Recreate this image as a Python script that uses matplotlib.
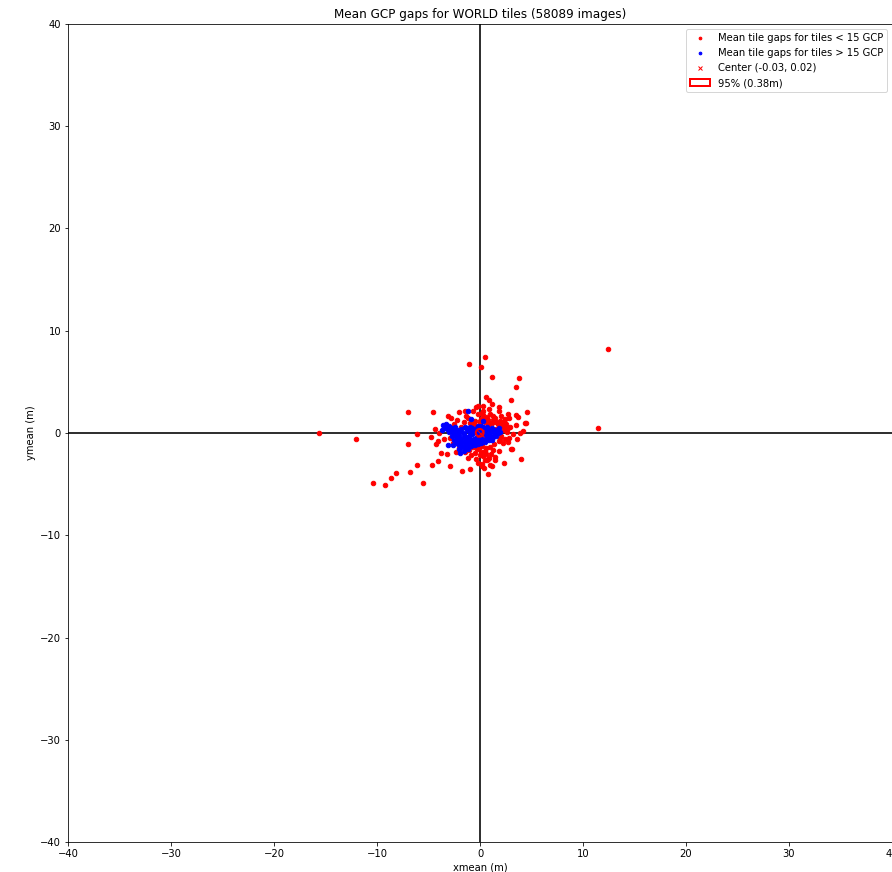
from matplotlib import pyplot as plt
from matplotlib.patches import Circle
import numpy as np

# mean gaps (m) for tiles with fewer than 15 GCP
red_x = [-15.6, -12.05, 12.44, 11.47,
         0.49, -1.04, 0.1, 1.17, 3.79, 3.5, 0.55, 0.9, 3.0, 1.2, 1.8, 4.6, -7.0, -4.6, -1.5, -2.0,
         2.75, -3.1, 3.7, 2.4, 4.4, 3.5, -4.4, -6.15, -4.8, 3.9, 3.6, -3.5, -6.97, -4.3, 3.1, -3.8,
         -3.2, -4.1, 4.0, 2.3, 1.5, -6.1, -4.7, -2.9, 0.4, -1.7, -0.97, 0.78, -8.2, -6.8, -8.6, -10.4,
         -9.2, -5.5, 0.8, 0.03,
         0.26, 0.9, 1.87, 3.5, 1.23, 2.85, 2.36, 2.7, 4.15, 3.17, 2.85, 2.2, 3.0, 1.87, 0.26, 0.9,
         -0.4, -1.2, -4.1, -3.95, -2.8, -1.36, -0.7, -0.4, 0.65, 4.47, -0.15,
         -0.2, 0.3, 0.7, 1.0, 1.5, 1.9, 0.1, -0.5, -1.0, 0.5, 1.2, 1.7, 2.1, 2.5, -1.6, -2.2, -2.5,
         0.8, 2.3, 2.6, 2.0, 2.4, 1.8, 1.4, 1.0, 0.6, 0.2, -0.3, -0.7, -1.1, -0.5, 0.1, 0.6, 1.3,
         -1.5, -2.0, -2.6, -2.9, 1.6, 1.1, 0.4, -0.3, -0.8, 2.9, 2.7, 1.5, -0.9, 0.3, -1.2, 0.0,
         1.3, 2.0, -1.8, -2.3, 0.5, -0.2, 1.0, 0.2, 0.5, 1.1, 0.2, 1.2,
         0.0, 0.4, 0.8, 1.6, 2.2, -0.6, 0.2, 0.9, -0.1, 0.5, 1.9, 2.5]
red_y = [0.03, -0.55, 8.24, 0.52,
         7.4, 6.7, 6.5, 5.5, 5.35, 4.5, 3.55, 3.2, 3.2, 2.8, 2.5, 2.1, 2.1, 2.1, 2.2, 2.05,
         1.9, 1.7, 1.6, 1.4, 1.0, 0.8, 0.35, -0.1, -0.35, 0.03, -0.6, -0.6, -1.1, -1.1, -1.6, -2.0,
         -2.1, -2.7, -2.55, -2.9, -2.6, -3.1, -3.1, -3.2, -3.45, -3.7, -3.55, -4.0, -3.9, -3.8, -4.4, -4.9,
         -5.05, -4.85, -2.55, -2.15,
         2.64, 2.3, 2.15, 1.8, 1.66, 1.5, 1.17, 0.52, 0.2, -0.13, -0.46, -0.95, -1.6, -1.76, -2.25, -2.4,
         -2.57, -2.4, -0.8, 0.03, 1.5, 1.66, 2.15, 2.5, -2.6, 0.95, 2.6,
         1.9, 1.8, 1.6, 1.9, 1.5, 1.2, 1.4, 1.2, 1.0, 1.1, 1.0, 0.9, 0.7, 0.9, 1.1, 1.3, 0.9,
         0.8, 0.3, 0.1, -0.3, -0.6, -0.8, -1.1, -1.4, -1.5, -1.3, -1.6, -1.4, -1.7, -2.0, -1.9, -2.1, -1.7,
         -1.9, -1.5, -1.0, -0.5, 0.4, 0.3, 0.5, 0.6, 0.4, 0.6, -0.9, -2.3, -2.2, 2.2, 1.5, 1.0,
         1.3, 1.7, 0.6, -1.9, -2.6, -2.9, -3.1, -3.2, -1.9, -2.1, -3.0, -3.2,
         1.2, 1.5, 1.3, 1.1, 0.9, 0.9, 2.0, 1.0, -1.5, -1.8, -0.6, 0.5]

# mean gaps (m) for tiles with more than 15 GCP
blue_x = [-3.6, -3.3, -3.0, -3.5, -3.2, -2.8, -3.7, -2.6, -3.0, -2.4,
          -2.2, -2.0, -1.8, -1.6, -1.4, -1.2, -1.0, -0.8, -0.6, -0.4, -0.2, 0.0, 0.2, 0.4, 0.6, 0.8,
          1.0, 1.2, 1.4, 1.6, 1.8, 1.9, 1.3, 0.9, 0.5, 0.1, -0.3, -0.7, -1.1, -1.5, -1.9, -2.3, -2.5,
          -2.1, -1.7, -1.3, -0.9, -0.5, -2.0, -1.6, -1.2, -1.9, -2.6, -3.1, -0.2, 0.3, 0.7, -1.0, -1.4,
          -0.6, 0.0, -1.6, 1.5, -0.9, 0.4, -2.7, -0.1,
          -2.9, -2.5, -2.2, -1.9, -1.5, -1.1, -0.7, -0.3, 0.1, 0.5, 0.9, 1.3, 1.7,
          -2.4, -2.0, -1.6, -1.2, -0.8, -0.4, 0.0, 0.4, 0.8, 1.2, 1.6,
          -2.2, -1.8, -1.4, -1.0, -0.6, -0.2, 0.2, 0.6, 1.0,
          -1.8, -1.4, -1.0, -0.6, -0.2, 0.2, -1.5, -1.1, -3.4, -3.1, -2.7,
          -1.2, -0.87, 0.26]
blue_y = [0.8, 0.9, 0.7, 0.5, 0.4, 0.5, 0.3, 0.2, 0.1, 0.6,
          0.3, -0.1, 0.4, 0.0, -0.4, 0.3, -0.2, 0.5, -0.6, 0.2, -0.3, 0.4, -0.5, 0.1, -0.2, 0.3,
          -0.1, 0.5, 0.1, 0.3, 0.5, 0.1, -0.4, -0.7, -0.9, -1.0, -0.9, -1.0, -0.8, -0.9, -0.6, -0.3, -0.7,
          -1.1, -1.3, -1.2, -1.3, -1.2, -1.6, -1.8, -1.6, -2.0, -1.2, -1.2, 0.7, 0.6, 0.6, 0.6, 0.5,
          0.3, -0.1, -0.5, -0.2, 0.1, -0.4, -0.3, -0.6,
          0.3, 0.0, -0.5, 0.2, 0.6, 0.2, 0.0, 0.5, 0.7, 0.4, 0.0, 0.2, 0.0,
          0.1, -0.4, -0.2, -0.4, -0.1, -0.5, -0.4, -0.6, -0.4, -0.7, -0.3,
          -0.9, -0.9, -0.7, -0.6, -0.8, -0.7, -0.8, -0.5, -0.4,
          -1.4, -1.1, -1.0, -1.0, -1.1, -0.9, -1.4, -1.1, 0.65, 0.6, 0.35,
          2.15, 1.34, 1.17]

center = (-0.03, 0.02)
r95 = 0.38
n_images = 58089

if __name__ == '__main__':
    fig = plt.figure(figsize=(892 / 72, 872 / 72), dpi=72)
    ax = fig.add_axes([68 / 892, 30 / 872, 824 / 892, 818 / 872])
    ax.axhline(0, color='0.1', lw=1.8, zorder=1)
    ax.axvline(0, color='0.1', lw=1.8, zorder=1)
    ax.plot(red_x, red_y, 'r.', ms=9, label='Mean tile gaps for tiles < 15 GCP')
    ax.plot(blue_x, blue_y, 'b.', ms=9, label='Mean tile gaps for tiles > 15 GCP')
    ax.plot(center[0], center[1], 'rx', ms=7, zorder=5, label='Center (%.2f, %.2f)' % center)
    ax.add_patch(Circle(center, r95, fill=False, edgecolor='r', lw=2, zorder=5,
                        label='95%% (%.2fm)' % r95))
    ax.set_xlim(-40, 40)
    ax.set_ylim(-40, 40)
    ax.set_xticks(np.arange(-40, 41, 10))
    ax.set_yticks(np.arange(-40, 41, 10))
    ax.set_xlabel('xmean (m)')
    ax.set_ylabel('ymean (m)')
    ax.set_title('Mean GCP gaps for WORLD tiles (%d images)' % n_images)
    ax.legend(loc='upper right', markerscale=0.6)
    fig.savefig('out.png', dpi=72)
